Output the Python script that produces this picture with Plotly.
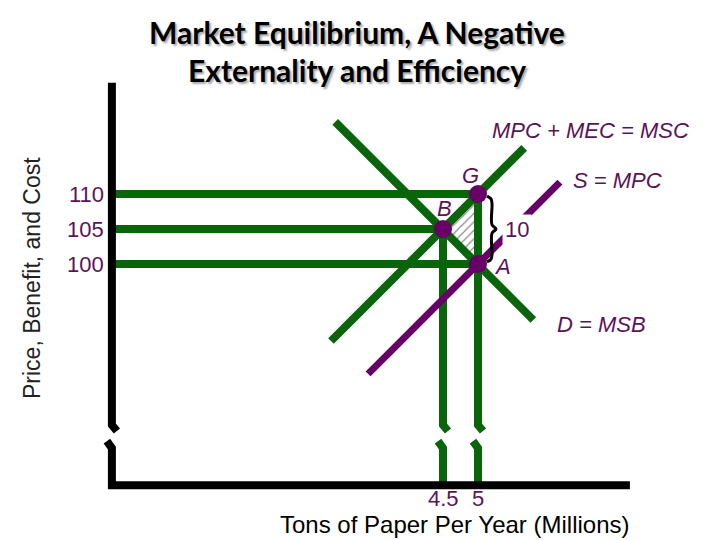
import plotly.graph_objects as go

# ---------------- data ----------------
PRICES = [110, 105, 100]
PRICE_END_Q = [5, 4.5, 5]          # quantity where each price guide ends
PRICE_LABELS = ["110", "105", "100"]
QTY_TICKS = [4.5, 5]
QTY_TOP_P = [105, 110]             # price where each quantity guide starts
QTY_LABELS = ["4.5", "5"]
PT_NAMES = ["G", "B", "A"]
PT_Q = [5, 4.5, 5]
PT_P = [110, 105, 100]
D_Q = [2.96, 5.79]
D_P = [120.3, 92.0]
MSC_Q = [2.90, 5.66]
MSC_P = [89.0, 116.6]
MPC_Q = [3.43, 6.17]
MPC_P = [84.3, 111.7]
MEC = 10

# axis frame (data units)
AXIS_Q0 = -0.23
AXIS_P0 = 68.4
AXIS_P_TOP = 125.9
AXIS_Q_END = 7.17
BREAK_TOP = 77.0
BREAK_BOT = 73.7

X_RANGE = [-1.8286, 8.4571]
Y_RANGE = [60.571, 137.714]
DQ = (X_RANGE[1] - X_RANGE[0]) / 720   # data per pixel
DP = (Y_RANGE[1] - Y_RANGE[0]) / 540

GREEN = "#0a650a"
PURPLE = "#660066"
TEXT_PURPLE = "#5a145a"

fig = go.Figure()

# deadweight-loss triangle B-G-A (hatched)
fig.add_trace(go.Scatter(
    x=[PT_Q[1], PT_Q[0], PT_Q[2], PT_Q[1]],
    y=[PT_P[1], PT_P[0], PT_P[2], PT_P[1]],
    mode="lines", fill="toself", line=dict(width=0, color="rgba(0,0,0,0)"),
    fillcolor="white",
    fillpattern=dict(shape="/", fgcolor="#111111", bgcolor="white", size=6, solidity=0.2),
    hoverinfo="skip", showlegend=False))


def broken_vertical(q, p_top):
    xs = [q, q, q + 5 * DQ, None, q - 5 * DQ, q, q]
    ys = [p_top, BREAK_TOP, BREAK_TOP - 6 * DP, None, BREAK_BOT + 7 * DP, BREAK_BOT, AXIS_P0]
    return xs, ys


# horizontal price guides
for p, q in zip(PRICES, PRICE_END_Q):
    fig.add_trace(go.Scatter(x=[AXIS_Q0, q], y=[p, p], mode="lines",
                             line=dict(color=GREEN, width=8), hoverinfo="skip", showlegend=False))

# vertical quantity guides with breaks
for q, p in zip(QTY_TICKS, QTY_TOP_P):
    xs, ys = broken_vertical(q, p)
    fig.add_trace(go.Scatter(x=xs, y=ys, mode="lines",
                             line=dict(color=GREEN, width=8), hoverinfo="skip", showlegend=False))

# curves
fig.add_trace(go.Scatter(x=D_Q, y=D_P, mode="lines", line=dict(color=GREEN, width=8),
                         hoverinfo="skip", showlegend=False))
fig.add_trace(go.Scatter(x=MSC_Q, y=MSC_P, mode="lines", line=dict(color=GREEN, width=8),
                         hoverinfo="skip", showlegend=False))
fig.add_trace(go.Scatter(x=MPC_Q, y=MPC_P, mode="lines", line=dict(color=PURPLE, width=7),
                         hoverinfo="skip", showlegend=False))

# axes with break
xs = [AXIS_Q0, AXIS_Q0, AXIS_Q0 + 5 * DQ, None, AXIS_Q0 - 5 * DQ, AXIS_Q0, AXIS_Q0, AXIS_Q_END]
ys = [AXIS_P_TOP, BREAK_TOP, BREAK_TOP - 6 * DP, None, BREAK_BOT + 7 * DP, BREAK_BOT, AXIS_P0, AXIS_P0]
fig.add_trace(go.Scatter(x=xs, y=ys, mode="lines", line=dict(color="black", width=8),
                         hoverinfo="skip", showlegend=False))

# brace between G and A
g_p, a_p = PT_P[0], PT_P[2]
brace_dx = [9, 13, 14, 14, 18, 14, 14, 13, 9]
brace_t = [0.03, 0.07, 0.14, 0.44, 0.5, 0.56, 0.86, 0.93, 0.97]
fig.add_trace(go.Scatter(
    x=[PT_Q[0] + d * DQ for d in brace_dx],
    y=[g_p - t * (g_p - a_p) for t in brace_t],
    mode="lines", line=dict(color="black", width=3, shape="spline"),
    hoverinfo="skip", showlegend=False))

# points
fig.add_trace(go.Scatter(x=PT_Q, y=PT_P, mode="markers",
                         marker=dict(color=PURPLE, size=18, line=dict(width=0)),
                         hoverinfo="skip", showlegend=False))

annotations = []
TF = "Liberation Sans, Arial, sans-serif"

# price tick labels
for p, lab in zip(PRICES, PRICE_LABELS):
    annotations.append(dict(x=AXIS_Q0 - 6 * DQ, y=p, xref="x", yref="y", text=lab,
                            xanchor="right", yanchor="middle", showarrow=False,
                            font=dict(family=TF, size=22, color=TEXT_PURPLE)))
# quantity tick labels
for q, lab in zip(QTY_TICKS, QTY_LABELS):
    annotations.append(dict(x=q, y=AXIS_P0 - 13 * DP, xref="x", yref="y", text=lab,
                            xanchor="center", yanchor="middle", showarrow=False,
                            font=dict(family=TF, size=22, color=TEXT_PURPLE)))

# point labels
pt_off = {"G": (-8, 19), "B": (1, 21), "A": (24, -2)}
for n, q, p in zip(PT_NAMES, PT_Q, PT_P):
    dx, dy = pt_off[n]
    annotations.append(dict(x=q + dx * DQ, y=p + dy * DP, xref="x", yref="y", text=n,
                            xanchor="center", yanchor="middle", showarrow=False,
                            font=dict(family=TF, size=22, color=TEXT_PURPLE, style="italic")))

# MEC label
annotations.append(dict(x=PT_Q[0] + 39 * DQ, y=(g_p + a_p) / 2, xref="x", yref="y", text=str(MEC),
                        xanchor="center", yanchor="middle", showarrow=False, bgcolor="white",
                        borderpad=2, font=dict(family=TF, size=22, color=TEXT_PURPLE)))

# curve labels
curve_labels = [("MPC + MEC = MSC", 6.6, 119.14), ("S = MPC", 6.986, 111.86), ("D = MSB", 6.771, 91.29)]
for t, q, p in curve_labels:
    annotations.append(dict(x=q, y=p, xref="x", yref="y", text=t,
                            xanchor="center", yanchor="middle", showarrow=False,
                            font=dict(family=TF, size=22, color=TEXT_PURPLE, style="italic")))

# title
for txt, yy in [("Market Equilibrium, A Negative", 32), ("Externality and Efficiency", 70)]:
    annotations.append(dict(x=357 / 720, y=1 - yy / 540, xref="paper", yref="paper", text=txt,
                            xanchor="center", yanchor="middle", showarrow=False,
                            font=dict(family="Lato, sans-serif", size=30, color="black",
                                      weight="bold", shadow="2px 2px 2px #aaaaaa")))

# axis titles
annotations.append(dict(x=455 / 720, y=1 - 524 / 540, xref="paper", yref="paper",
                        text="Tons of Paper Per Year (Millions)", xanchor="center", yanchor="middle",
                        showarrow=False, font=dict(family=TF, size=24, color="black")))
annotations.append(dict(x=32 / 720, y=1 - 278 / 540, xref="paper", yref="paper",
                        text="Price, Benefit, and Cost", textangle=-90, xanchor="center",
                        yanchor="middle", showarrow=False, font=dict(family=TF, size=23, color="#222222")))

fig.update_layout(
    width=720, height=540, autosize=False,
    margin=dict(l=0, r=0, t=0, b=0),
    paper_bgcolor="white", plot_bgcolor="white",
    xaxis=dict(range=X_RANGE, visible=False, fixedrange=True),
    yaxis=dict(range=Y_RANGE, visible=False, fixedrange=True),
    annotations=annotations,
    showlegend=False,
)

fig.write_html("out.html", config={"displayModeBar": False},
               post_script="document.body.style.margin='0';document.body.style.overflow='hidden';")
